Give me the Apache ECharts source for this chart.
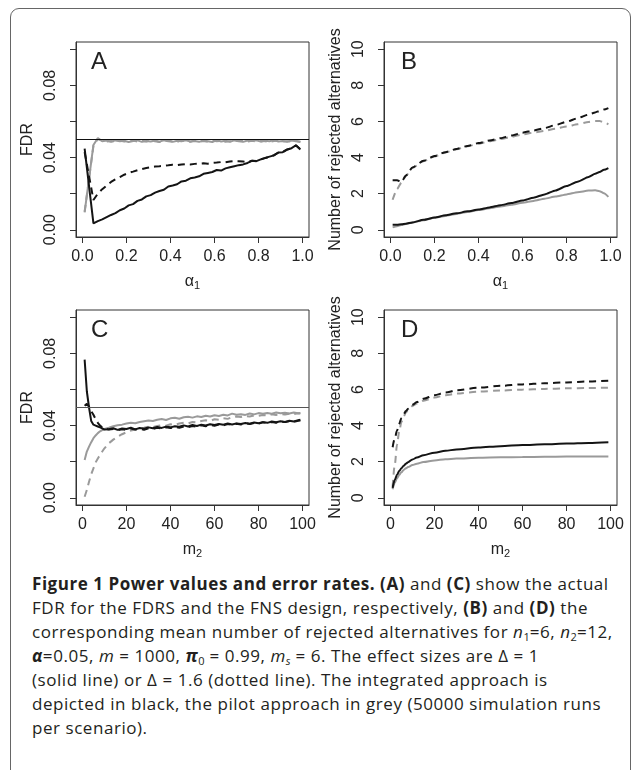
<!DOCTYPE html>
<html>
<head>
<meta charset="utf-8">
<script src="https://cdn.jsdelivr.net/npm/echarts@6/dist/echarts.min.js"></script>
<style>
  html, body { margin: 0; padding: 0; background: #fff; }
  #frame { position: absolute; left: 10px; top: 8px; width: 621px; height: 800px;
           border: 1px solid #666; border-radius: 9px; box-sizing: border-box; }
  #chart { position: absolute; left: 0; top: 0; width: 632px; height: 560px; }
  #caption { position: absolute; left: 32px; top: 572px; font-family: 'Open Sans', sans-serif;
             font-size: 17px; letter-spacing: 0.55px; line-height: 24px; color: #231f20; white-space: nowrap; }
  #caption sub { font-size: 11px; line-height: 0; vertical-align: -3px; letter-spacing: 0; }
</style>
</head>
<body>
<div id="frame"></div>
<div id="chart"></div>
<div id="caption">
<b>Figure 1 Power values and error rates. (A)</b> and <b>(C)</b> show the actual<br>
FDR for the FDRS and the FNS design, respectively, <b>(B)</b> and <b>(D)</b> the<br>
corresponding mean number of rejected alternatives for <i>n</i><sub>1</sub>=6, <i>n</i><sub>2</sub>=12,<br>
<b><i>α</i></b>=0.05, <i>m</i> = 1000, <b><i>π</i></b><sub>0</sub> = 0.99, <i>m<sub>s</sub></i> = 6. The effect sizes are Δ = 1<br>
(solid line) or Δ = 1.6 (dotted line). The integrated approach is<br>
depicted in black, the pilot approach in grey (50000 simulation runs<br>
per scenario).
</div>
<script>
// panel A: FDR vs alpha1
var alphaA = [0.01,0.05,0.07,0.09,0.11,0.13,0.15,0.17,0.19,0.21,0.23,0.25,0.27,0.29,0.31,0.33,0.35,0.37,0.39,0.41,0.43,0.45,0.47,0.49,0.51,0.53,0.55,0.57,0.59,0.61,0.63,0.65,0.67,0.69,0.71,0.73,0.75,0.77,0.79,0.81,0.83,0.85,0.87,0.89,0.91,0.93,0.95,0.97,0.99];
var fdrA_int1 = [0.0450,0.0035,0.0048,0.0058,0.0070,0.0082,0.0092,0.0108,0.0118,0.0135,0.0142,0.0160,0.0168,0.0185,0.0192,0.0206,0.0215,0.0222,0.0240,0.0245,0.0252,0.0268,0.0272,0.0285,0.0290,0.0296,0.0310,0.0315,0.0320,0.0331,0.0328,0.0340,0.0346,0.0352,0.0358,0.0362,0.0370,0.0382,0.0380,0.0390,0.0398,0.0405,0.0412,0.0428,0.0430,0.0445,0.0452,0.0468,0.0445];
var fdrA_int16 = [0.0430,0.0165,0.0200,0.0225,0.0245,0.0265,0.0280,0.0292,0.0305,0.0315,0.0322,0.0330,0.0336,0.0342,0.0346,0.0350,0.0352,0.0355,0.0357,0.0360,0.0358,0.0362,0.0364,0.0362,0.0365,0.0366,0.0368,0.0366,0.0370,0.0372,0.0375,0.0374,0.0378,0.0380,0.0380,0.0378,0.0376,0.0382,0.0381,0.0390,0.0397,0.0405,0.0413,0.0427,0.0431,0.0444,0.0452,0.0467,0.0446];
var fdrA_pil1 = [0.0096,0.0470,0.0508,0.0490,0.0494,0.0488,0.0495,0.0490,0.0493,0.0486,0.0492,0.0495,0.0487,0.0492,0.0489,0.0494,0.0488,0.0496,0.0490,0.0487,0.0493,0.0490,0.0496,0.0489,0.0492,0.0487,0.0494,0.0490,0.0486,0.0497,0.0489,0.0493,0.0488,0.0495,0.0490,0.0487,0.0494,0.0491,0.0496,0.0488,0.0493,0.0490,0.0497,0.0489,0.0492,0.0488,0.0494,0.0490,0.0487];
var fdrA_pil16 = [0.0100,0.0465,0.0503,0.0493,0.0489,0.0492,0.0487,0.0494,0.0489,0.0491,0.0496,0.0488,0.0493,0.0489,0.0495,0.0490,0.0486,0.0492,0.0494,0.0489,0.0487,0.0495,0.0491,0.0488,0.0494,0.0490,0.0492,0.0487,0.0495,0.0490,0.0493,0.0488,0.0491,0.0489,0.0496,0.0490,0.0488,0.0493,0.0489,0.0494,0.0490,0.0487,0.0492,0.0495,0.0489,0.0491,0.0488,0.0493,0.0486];

// panel B: rejected alternatives vs alpha1
var alphaB = [0.01,0.03,0.05,0.07,0.1,0.15,0.2,0.25,0.3,0.35,0.4,0.45,0.5,0.55,0.6,0.65,0.7,0.75,0.8,0.85,0.9,0.93,0.95,0.97,0.99];
var rejB_int1 = [0.28,0.28,0.30,0.34,0.41,0.55,0.68,0.80,0.91,1.02,1.12,1.24,1.36,1.48,1.62,1.78,1.96,2.18,2.42,2.66,2.92,3.10,3.20,3.32,3.42];
var rejB_int16 = [2.74,2.74,2.64,3.00,3.45,3.82,4.08,4.30,4.48,4.64,4.80,4.94,5.07,5.22,5.38,5.50,5.63,5.80,5.98,6.18,6.38,6.50,6.58,6.66,6.74];
var rejB_pil1 = [0.13,0.20,0.26,0.32,0.40,0.53,0.66,0.77,0.88,0.99,1.09,1.19,1.29,1.39,1.50,1.60,1.72,1.84,1.96,2.08,2.17,2.19,2.14,2.02,1.82];
var rejB_pil16 = [1.66,2.25,2.62,2.98,3.43,3.80,4.06,4.28,4.46,4.62,4.77,4.90,5.02,5.15,5.28,5.38,5.48,5.60,5.72,5.84,5.97,6.03,6.02,5.96,5.84];

// panel C: FDR vs m2
var mC = [1,2,3,4,5,6,7,8,9,10,12,14,16,18,20,22,24,26,28,30,32,34,36,38,40,42,44,46,48,50,52,54,56,58,60,62,64,66,68,70,72,74,76,78,80,82,84,86,88,90,92,94,96,98,99];
var fdrC_int1 = [0.0765,0.0590,0.0500,0.0425,0.0405,0.0400,0.0395,0.0390,0.0385,0.0378,0.0380,0.0385,0.0376,0.0384,0.0381,0.0388,0.0379,0.0386,0.0383,0.0390,0.0385,0.0392,0.0387,0.0394,0.0390,0.0396,0.0393,0.0401,0.0395,0.0403,0.0398,0.0405,0.0400,0.0407,0.0403,0.0409,0.0405,0.0411,0.0406,0.0412,0.0409,0.0414,0.0410,0.0417,0.0413,0.0419,0.0415,0.0422,0.0418,0.0424,0.0420,0.0427,0.0423,0.0429,0.0432];
var fdrC_int16 = [0.0510,0.0520,0.0505,0.0480,0.0460,0.0435,0.0415,0.0400,0.0390,0.0384,0.0378,0.0381,0.0374,0.0380,0.0376,0.0383,0.0378,0.0382,0.0377,0.0385,0.0381,0.0388,0.0383,0.0390,0.0386,0.0392,0.0388,0.0395,0.0391,0.0398,0.0394,0.0401,0.0396,0.0403,0.0399,0.0406,0.0401,0.0408,0.0404,0.0410,0.0406,0.0413,0.0409,0.0415,0.0411,0.0418,0.0414,0.0420,0.0416,0.0422,0.0419,0.0424,0.0421,0.0426,0.0428];
var fdrC_pil1 = [0.0209,0.0256,0.0283,0.0308,0.0330,0.0345,0.0358,0.0368,0.0375,0.0381,0.0388,0.0396,0.0402,0.0405,0.0411,0.0416,0.0413,0.0420,0.0424,0.0428,0.0425,0.0432,0.0436,0.0431,0.0440,0.0443,0.0438,0.0446,0.0449,0.0444,0.0451,0.0447,0.0454,0.0450,0.0457,0.0453,0.0460,0.0456,0.0466,0.0460,0.0463,0.0459,0.0467,0.0462,0.0469,0.0465,0.0470,0.0466,0.0472,0.0468,0.0471,0.0467,0.0472,0.0468,0.0469];
var fdrC_pil16 = [0.0006,0.0043,0.0089,0.0130,0.0163,0.0196,0.0218,0.0237,0.0256,0.0274,0.0302,0.0322,0.0338,0.0352,0.0363,0.0372,0.0378,0.0384,0.0388,0.0394,0.0391,0.0398,0.0402,0.0399,0.0407,0.0404,0.0411,0.0415,0.0412,0.0420,0.0417,0.0425,0.0429,0.0426,0.0435,0.0432,0.0440,0.0437,0.0446,0.0450,0.0447,0.0453,0.0450,0.0456,0.0454,0.0459,0.0456,0.0462,0.0459,0.0464,0.0461,0.0466,0.0463,0.0468,0.0467];

// panel D: rejected alternatives vs m2
var mD = [1,2,3,4,5,6,7,8,10,12,15,20,25,30,40,50,60,70,80,90,99];
var rejD_int1 = [0.55,1.00,1.28,1.48,1.64,1.77,1.88,1.97,2.12,2.23,2.36,2.50,2.60,2.68,2.78,2.86,2.92,2.96,3.00,3.04,3.08];
var rejD_int16 = [2.80,3.30,3.72,4.10,4.42,4.62,4.80,4.93,5.15,5.30,5.48,5.68,5.83,5.95,6.10,6.20,6.28,6.34,6.39,6.44,6.48];
var rejD_pil1 = [0.47,0.83,1.08,1.27,1.42,1.54,1.63,1.70,1.81,1.89,1.98,2.07,2.13,2.17,2.22,2.24,2.26,2.27,2.28,2.29,2.29];
var rejD_pil16 = [0.62,1.85,2.95,3.68,4.20,4.50,4.72,4.87,5.08,5.22,5.38,5.55,5.68,5.77,5.88,5.94,5.99,6.03,6.06,6.08,6.10];

var fdrTicks = [0, 0.02, 0.04, 0.06, 0.08, 0.10];
var fdrLabels = [0, 0.04, 0.08];
var rejTicks = [0, 2, 4, 6, 8, 10];
var alphaTicks = [0, 0.2, 0.4, 0.6, 0.8, 1.0];
var mTicks = [0, 20, 40, 60, 80, 100];
var fdrLimit = 0.05;

var FONT = 'Liberation Sans';
var INK = '#222';
var BLACK = '#141414';
var GREY = '#9a9a9a';

function pairs(xs, ys) {
  return xs.map(function (x, i) { return [x, ys[i]]; });
}

function xAxisFor(grid, min, max, ticks, digits, sub) {
  return {
    type: 'value', gridIndex: grid, min: min, max: max,
    splitLine: { show: false },
    axisLine: { show: true, onZero: false, lineStyle: { color: '#333', width: 1 } },
    axisTick: { show: true, length: 6, customValues: ticks, lineStyle: { color: '#333' } },
    axisLabel: { customValues: ticks, margin: 12, fontFamily: FONT, fontSize: 16, color: INK,
      formatter: function (v) { return digits ? v.toFixed(digits) : String(Math.round(v)); } },
    name: sub, nameLocation: 'middle', nameGap: 36,
    nameTextStyle: { fontFamily: FONT, fontSize: 16, color: INK,
      rich: { a: { fontFamily: FONT, fontSize: 16, color: INK },
              s: { fontFamily: FONT, fontSize: 11, color: INK, padding: [7, 0, 0, 0] } } }
  };
}

function yAxisFor(grid, min, max, ticks, labels, digits, name) {
  return {
    type: 'value', gridIndex: grid, min: min, max: max,
    splitLine: { show: false },
    axisLine: { show: true, onZero: false, lineStyle: { color: '#333', width: 1 } },
    axisTick: { show: true, length: 6, customValues: ticks, lineStyle: { color: '#333' } },
    axisLabel: { customValues: labels, rotate: 90, margin: 17, fontFamily: FONT, fontSize: 16, color: INK,
      formatter: function (v) { return digits ? v.toFixed(digits) : String(Math.round(v)); } },
    name: name, nameLocation: 'middle', nameGap: 40,
    nameTextStyle: { fontFamily: FONT, fontSize: 16, color: INK }
  };
}

function curve(grid, xs, ys, color, dashed, smooth) {
  return {
    type: 'line', xAxisIndex: grid, yAxisIndex: grid,
    data: pairs(xs, ys), symbol: 'none', smooth: smooth || false,
    smoothMonotone: 'x',
    lineStyle: { color: color, width: 2, type: dashed ? [7, 5] : 'solid' },
    z: 3
  };
}

function refLine(grid, color) {
  return {
    type: 'line', xAxisIndex: grid, yAxisIndex: grid, data: [], symbol: 'none',
    markLine: { silent: true, symbol: 'none', label: { show: false },
      lineStyle: { color: color, width: 1, type: 'solid' },
      data: [{ yAxis: fdrLimit }] },
    z: 4
  };
}

function letter(text, left, top) {
  return { text: text, left: left, top: top, padding: 0,
    textStyle: { fontFamily: FONT, fontSize: 24, fontWeight: 'normal', color: INK } };
}

var chart = echarts.init(document.getElementById('chart'), null, { renderer: 'canvas' });

var alphaName = '{a|α}{s|1}';
var mName = '{a|m}{s|2}';
var rejName = 'Number of rejected alternatives';

chart.setOption({
  animation: false,
  backgroundColor: 'transparent',
  title: [letter('A', 91, 50), letter('B', 401, 50), letter('C', 91, 318), letter('D', 401, 318)],
  grid: [
    { left: 76, top: 42, width: 233, height: 195, show: true, borderColor: '#333', borderWidth: 1 },
    { left: 384, top: 42, width: 233, height: 195, show: true, borderColor: '#333', borderWidth: 1 },
    { left: 76, top: 310, width: 233, height: 195, show: true, borderColor: '#333', borderWidth: 1 },
    { left: 384, top: 310, width: 233, height: 195, show: true, borderColor: '#333', borderWidth: 1 }
  ],
  xAxis: [
    xAxisFor(0, -0.0292, 1.0292, alphaTicks, 1, alphaName),
    xAxisFor(1, -0.0292, 1.0292, alphaTicks, 1, alphaName),
    xAxisFor(2, -2.92, 102.92, mTicks, 0, mName),
    xAxisFor(3, -2.92, 102.92, mTicks, 0, mName)
  ],
  yAxis: [
    yAxisFor(0, -0.004, 0.104, fdrTicks, fdrLabels, 2, 'FDR'),
    yAxisFor(1, -0.4, 10.4, rejTicks, rejTicks, 0, rejName),
    yAxisFor(2, -0.004, 0.104, fdrTicks, fdrLabels, 2, 'FDR'),
    yAxisFor(3, -0.4, 10.4, rejTicks, rejTicks, 0, rejName)
  ],
  series: [
    curve(0, alphaA, fdrA_pil1, GREY, false),
    curve(0, alphaA, fdrA_pil16, GREY, true),
    curve(0, alphaA, fdrA_int1, BLACK, false),
    curve(0, alphaA, fdrA_int16, BLACK, true),
    refLine(0, '#111'),

    curve(1, alphaB, rejB_pil1, GREY, false, 0.2),
    curve(1, alphaB, rejB_pil16, GREY, true, 0.2),
    curve(1, alphaB, rejB_int1, BLACK, false, 0.2),
    curve(1, alphaB, rejB_int16, BLACK, true, 0.2),

    curve(2, mC, fdrC_pil1, GREY, false),
    curve(2, mC, fdrC_pil16, GREY, true),
    curve(2, mC, fdrC_int1, BLACK, false),
    curve(2, mC, fdrC_int16, BLACK, true),
    refLine(2, '#555'),

    curve(3, mD, rejD_pil1, GREY, false, 0.3),
    curve(3, mD, rejD_pil16, GREY, true, 0.3),
    curve(3, mD, rejD_int1, BLACK, false, 0.3),
    curve(3, mD, rejD_int16, BLACK, true, 0.3)
  ]
});
</script>
</body>
</html>
